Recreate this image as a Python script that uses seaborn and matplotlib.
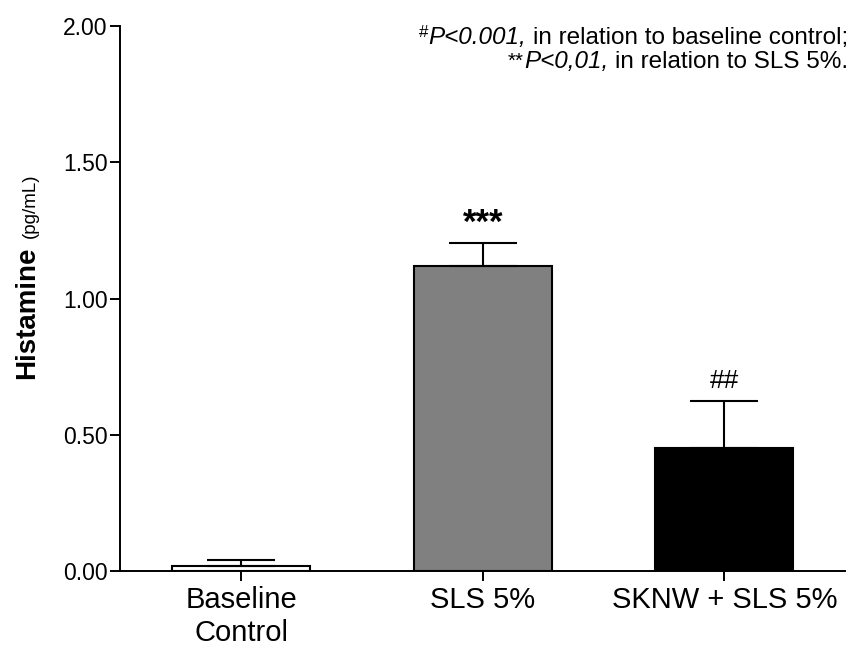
import numpy as np
import pandas as pd
import matplotlib
matplotlib.use("Agg")
import matplotlib.pyplot as plt
import seaborn as sns

# values
groups = ["Baseline\nControl", "SLS 5%", "SKNW + SLS 5%"]
means = [0.02, 1.12, 0.45]
sems = [0.02, 0.085, 0.175]
marks = ["", "***", "##"]
bar_colors = ["white", "#808080", "black"]
yticks = [0.0, 0.5, 1.0, 1.5, 2.0]

# footnote pieces: (text, style, size scale, raise in px)
note1 = [("#", "normal", 0.7, 7), ("P<0.001,", "italic", 1.0, 0),
         (" ", "normal", 1.0, 0), ("in relation to baseline control;", "normal", 1.0, 0)]
note2 = [("**", "normal", 0.85, 1), ("P<0,01,", "italic", 1.0, 0),
         (" ", "normal", 1.0, 0), ("in relation to SLS 5%.", "normal", 1.0, 0)]

W, H = 862, 648

sns.set_style("ticks")
plt.rcParams["font.family"] = ["Liberation Sans", "DejaVu Sans"]
for key in ["text.color", "axes.labelcolor", "xtick.color", "ytick.color", "axes.edgecolor"]:
    plt.rcParams[key] = "black"

df = pd.DataFrame({"group": groups, "histamine": means})

fig = plt.figure(figsize=(W / 100, H / 100), dpi=100)
ax = fig.add_axes([0.1392, 0.1188, 0.9803 - 0.1392, 0.9599 - 0.1188])

sns.barplot(
    data=df, x="group", y="histamine", hue="group",
    palette=bar_colors, order=groups, hue_order=groups,
    errorbar=None, width=0.573, edgecolor="black", linewidth=1.5,
    legend=False, ax=ax,
)

# one-sided (upper) SEM bars
xpos = np.arange(len(groups))
ax.errorbar(
    xpos, means, yerr=[np.zeros(len(means)), sems],
    fmt="none", ecolor="black", elinewidth=1.5, capsize=24.5, capthick=1.5,
)

# significance marks above the error bars
for x, m, s, lab in zip(xpos, means, sems, marks):
    if not lab:
        continue
    if lab.startswith("*"):
        ax.text(x, m + s + 0.035, lab, ha="center", va="baseline",
                fontsize=25, fontweight="bold")
    else:
        ax.text(x, m + s + 0.03, lab, ha="center", va="bottom", fontsize=19)

ax.set_ylim(0, 2.0)
ax.set_xlim(-0.502, 2.5)
ax.set_yticks(yticks)
ax.set_yticklabels([f"{v:.2f}" for v in yticks])
ax.set_xlabel("")
ax.set_ylabel("")
ax.tick_params(axis="y", labelsize=16.5, length=7, width=1.4, pad=2)
ax.tick_params(axis="x", labelsize=21, length=7, width=1.4, pad=4)
for side in ["left", "bottom"]:
    ax.spines[side].set_linewidth(1.4)
sns.despine(ax=ax)

# y-axis label: bold quantity + smaller unit
fig.text(0.040, 0.518, "Histamine", rotation=90, rotation_mode="anchor",
         ha="center", va="baseline", fontsize=20, fontweight="bold")
fig.text(0.040, 0.682, "(pg/mL)", rotation=90, rotation_mode="anchor",
         ha="center", va="baseline", fontsize=13.5)


def place_line(pieces, x_right, y_base, size):
    """Lay text pieces out right-to-left so the line ends at x_right (px)."""
    renderer = fig.canvas.get_renderer()
    x = x_right
    for txt, style, scale, dy in reversed(pieces):
        if txt == " ":
            x -= 0.278 * size * scale * 100 / 72
            continue
        t = fig.text(x / W, 1 - (y_base - dy) / H, txt, ha="right", va="baseline",
                     fontsize=size * scale, fontstyle=style)
        x -= t.get_window_extent(renderer).width


place_line(note1, 848, 44, 17.5)
place_line(note2, 848, 68, 17.5)

fig.savefig("out.png", dpi=100)
